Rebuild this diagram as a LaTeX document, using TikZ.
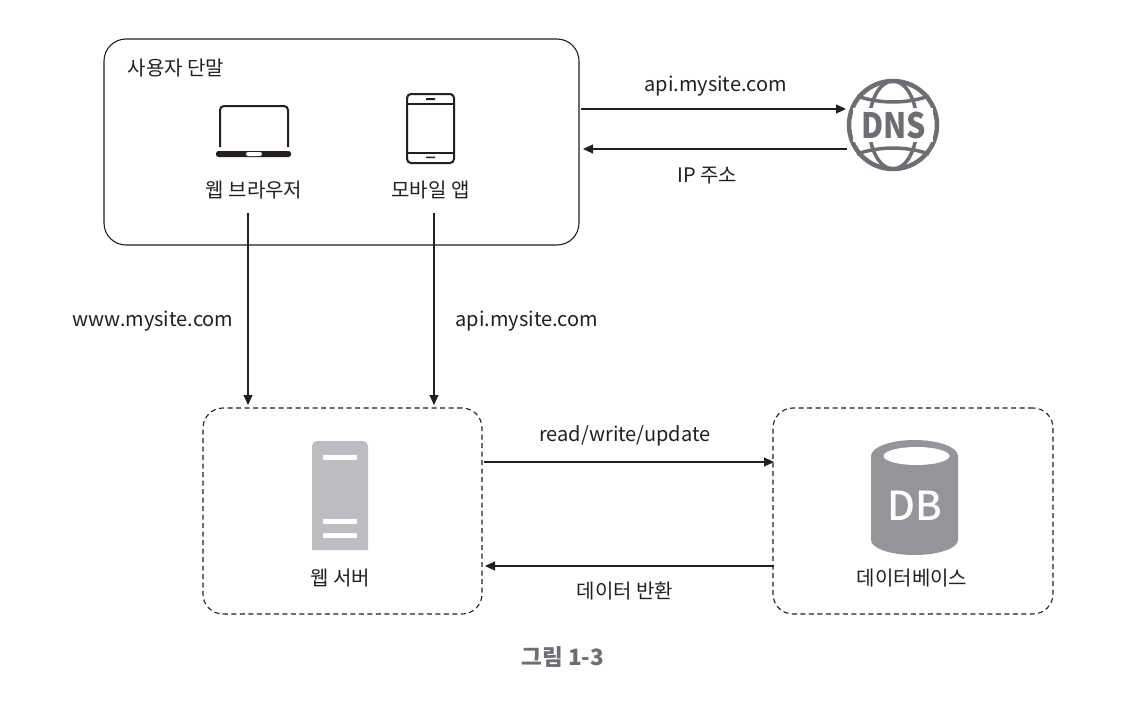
\documentclass[tikz,border=0pt]{standalone}
\usepackage{fontspec}
\setmainfont{Noto Sans CJK KR}
\newfontfamily\mediumfont{Noto Sans CJK KR Medium}
\usetikzlibrary{arrows.meta}
\definecolor{dnsgray}{HTML}{6D6E71}
\definecolor{servergray}{HTML}{BCBDC0}
\definecolor{dbgray}{HTML}{939598}
\definecolor{linegray}{HTML}{231F20}
\tikzset{
  >={Triangle[length=10pt,width=9pt]},
  label/.style={font=\fontsize{20}{22}\selectfont,text=linegray,inner sep=0pt},
  frame/.style={draw=linegray,line width=1.1pt,rounded corners=22pt},
  link/.style={draw=linegray,line width=1.1pt,->},
  pane/.style={frame,rounded corners=20pt,dashed,dash pattern=on 5pt off 3.5pt}
}
\begin{document}
\begin{tikzpicture}[x=1pt,y=-1pt]
  \useasboundingbox (0,0) rectangle (1132,720);
  \node[frame,minimum width=475pt,minimum height=206pt] (client) at (341.5,142) {};
  \node[pane,minimum width=279pt,minimum height=206pt] (webpane) at (342.5,511) {};
  \node[pane,minimum width=280pt,minimum height=206pt] (dbpane) at (913,511) {};
  \node[label] (clientlabel) at (176,68) {사용자 단말};
  \node[label] (browser) at (254,190) {웹 브라우저};
  \node[label] (mobile) at (430.5,190) {모바일 앱};
  \node[label] (webserver) at (340.5,578) {웹 서버};
  \node[label] (database) at (912,578) {데이터베이스};
  \draw[linegray,line width=2pt,rounded corners=4pt] (220,147) -- (220,106) -- (288,106) -- (288,147);
  \fill[linegray,rounded corners=2.5pt] (216,151) rectangle (291,157);
  \fill[white,rounded corners=2pt] (246,152) rectangle (262,156);
  \draw[linegray,line width=2pt,rounded corners=4pt] (407,94) rectangle (454,163);
  \draw[linegray,line width=1.5pt] (407,104) -- (454,104) (407,153) -- (454,153);
  \fill[linegray] (426,98.2) rectangle (435,100) (426,156.5) rectangle (435,158.2);
  \draw[dnsgray,line width=4.5pt] (893,125) circle (44);
  \draw[dnsgray,line width=3.5pt] (893,125) ellipse (24 and 44);
  \draw[dnsgray,line width=3.5pt] (857,96) .. controls (880,104) and (906,104) .. (929,96);
  \draw[dnsgray,line width=3.5pt] (857,154) .. controls (880,146) and (906,146) .. (929,154);
  \fill[white] (853,108) rectangle (933,142);
  \node[font=\fontsize{35}{35}\selectfont\bfseries,text=dnsgray,inner sep=0pt,xscale=0.87,transform shape] (dns) at (893.5,125) {DNS};
  \fill[servergray] (312,550) [rounded corners=5pt] -- (312,441) -- (368,441) [sharp corners] -- (368,550) -- cycle;
  \foreach \y in {455,519,533}
    \fill[white] (323,\y) rectangle (357,\y+5);
  \fill[dbgray] (871,456) arc[start angle=180,end angle=360,x radius=43.5,y radius=16]
    -- (958,540) arc[start angle=0,end angle=180,x radius=43.5,y radius=15] -- cycle;
  \fill[white] (916.5,456) ellipse (33 and 9);
  \node[font=\fontsize{40}{40}\mediumfont,text=white,inner sep=0pt] (db) at (915,506) {DB};
  \coordinate (dnsin) at (581,109);
  \coordinate (dnsend) at (846,109);
  \coordinate (dnsout) at (847,149);
  \coordinate (clientin) at (583,149);
  \coordinate (webstart) at (248,213);
  \coordinate (webend) at (248,405);
  \coordinate (appstart) at (434,213);
  \coordinate (append) at (434,405);
  \coordinate (dbstart) at (484,462);
  \coordinate (dbend) at (774,462);
  \coordinate (backstart) at (774,566);
  \coordinate (backend) at (485,566);
  \draw[link] (dnsin) -- (dnsend) node[pos=0.508,above=12pt,label] (dnsquery) {api.mysite.com};
  \draw[link] (dnsout) -- (clientin) node[pos=0.53,below=18pt,label] (ipanswer) {IP 주소};
  \draw[link] (webstart) -- (webend) node[pos=0.565,left=14pt,label] (webhost) {www.mysite.com};
  \draw[link] (appstart) -- (append) node[pos=0.565,right=21pt,label] (apihost) {api.mysite.com};
  \draw[link] (dbstart) -- (dbend) node[pos=0.486,above=15pt,label] (rwlabel) {read/write/update};
  \draw[link] (backstart) -- (backend) node[pos=0.516,below=15pt,label] (backlabel) {데이터 반환};
  \node[font=\fontsize{22.5}{24}\selectfont\bfseries,text=dnsgray,inner sep=0pt] (caption) at (563,657) {그림 1-3};
\end{tikzpicture}
\end{document}
